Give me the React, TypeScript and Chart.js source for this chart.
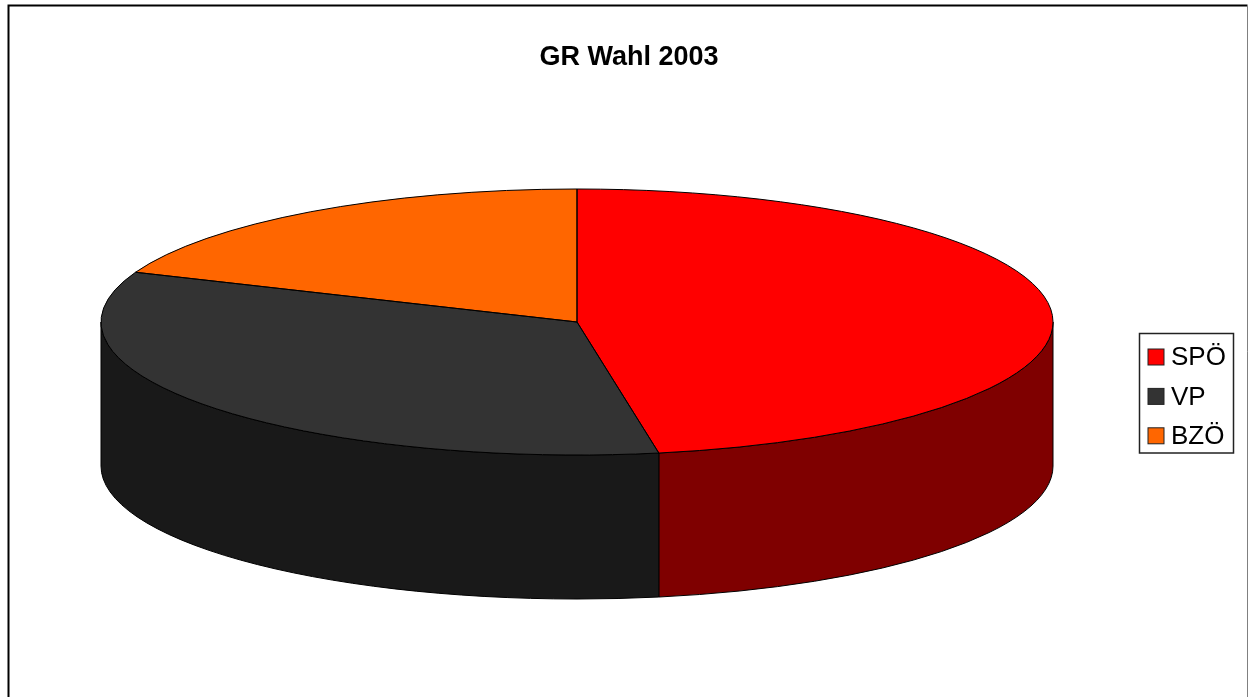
import React, { useEffect, useRef } from "react";
import { Chart, registerables } from "chart.js";

Chart.register(...registerables);

const categories = ["SPÖ", "VP", "BZÖ"];
const shares = [47.25, 33.85, 18.9];
const topColors = ["#ff0000", "#333333", "#ff6600"];
const wallColors = ["#7f0000", "#191919", "#7f3300"];
const chartTitle = "GR Wahl 2003";

const PIE = { cx: 577, cy: 322, rx: 476, ry: 133, depth: 144 };
const LEGEND_FRAME = { left: 1139.5, top: 333.5, right: 1233.5, bottom: 453 };
const LEGEND_TEXT = { size: 26, padding: 13.4, left: 1134.6, top: 331.6 };
const SWATCH = { x: 1148, size: 16, lift: 1 };
const FRAME = { left: 8.5, top: 5.5, right: 1247.5, bottom: 697 };

const pie3d = {
  id: "pie3d",
  afterLayout(chart: any) {
    const l = chart.legend;
    l.left = LEGEND_TEXT.left;
    l.top = LEGEND_TEXT.top;
    l.right = LEGEND_TEXT.left + 200;
    l.bottom = LEGEND_TEXT.top + 300;
  },
  beforeDatasetsDraw(chart: any) {
    const ctx = chart.ctx;
    const arcs = chart.getDatasetMeta(0).data;
    const { cx, cy, rx, ry, depth } = PIE;
    arcs.forEach((arc: any, i: number) => {
      const a = Math.max(arc.startAngle, 0);
      const b = Math.min(arc.endAngle, Math.PI);
      if (b <= a) return;
      ctx.save();
      ctx.beginPath();
      ctx.ellipse(cx, cy, rx, ry, 0, a, b);
      ctx.ellipse(cx, cy + depth, rx, ry, 0, b, a, true);
      ctx.closePath();
      ctx.fillStyle = wallColors[i];
      ctx.fill();
      ctx.strokeStyle = "#000000";
      ctx.lineWidth = 1;
      ctx.stroke();
      ctx.restore();
    });
    const first = arcs[0];
    ctx.save();
    ctx.translate(cx, cy);
    ctx.scale(rx / first.outerRadius, ry / first.outerRadius);
    ctx.translate(-first.x, -first.y);
  },
  afterDatasetsDraw(chart: any) {
    const ctx = chart.ctx;
    ctx.restore();
    const { cx, cy, rx, ry } = PIE;
    chart.getDatasetMeta(0).data.forEach((arc: any) => {
      ctx.save();
      ctx.beginPath();
      ctx.moveTo(cx, cy);
      ctx.ellipse(cx, cy, rx, ry, 0, arc.startAngle, arc.endAngle);
      ctx.closePath();
      ctx.strokeStyle = "#000000";
      ctx.lineWidth = 1;
      ctx.stroke();
      ctx.restore();
    });
  },
  afterDraw(chart: any) {
    const ctx = chart.ctx;
    ctx.save();
    ctx.strokeStyle = "#000000";
    ctx.lineWidth = 2;
    ctx.beginPath();
    ctx.moveTo(FRAME.left, FRAME.bottom);
    ctx.lineTo(FRAME.left, FRAME.top);
    ctx.lineTo(FRAME.right, FRAME.top);
    ctx.stroke();
    ctx.strokeStyle = "#808080";
    ctx.lineWidth = 1;
    ctx.beginPath();
    ctx.moveTo(FRAME.right, FRAME.top);
    ctx.lineTo(FRAME.right, FRAME.bottom);
    ctx.stroke();

    ctx.strokeStyle = "#222222";
    ctx.lineWidth = 1.5;
    ctx.strokeRect(
      LEGEND_FRAME.left,
      LEGEND_FRAME.top,
      LEGEND_FRAME.right - LEGEND_FRAME.left,
      LEGEND_FRAME.bottom - LEGEND_FRAME.top
    );
    const itemStep = LEGEND_TEXT.size + LEGEND_TEXT.padding;
    const firstTop = LEGEND_TEXT.top + LEGEND_TEXT.padding;
    categories.forEach((_, i) => {
      const y = firstTop + i * itemStep + (LEGEND_TEXT.size - SWATCH.size) / 2 - SWATCH.lift;
      ctx.fillStyle = topColors[i];
      ctx.fillRect(SWATCH.x, y, SWATCH.size, SWATCH.size);
      ctx.strokeStyle = "#222222";
      ctx.lineWidth = 1;
      ctx.strokeRect(SWATCH.x, y, SWATCH.size, SWATCH.size);
    });
    ctx.restore();
  },
};

export default function App() {
  const ref = useRef<HTMLCanvasElement | null>(null);
  useEffect(() => {
    document.body.style.margin = "0";
    const chart = new Chart(ref.current as HTMLCanvasElement, {
      type: "pie",
      data: {
        labels: categories,
        datasets: [{ data: shares, backgroundColor: topColors, borderWidth: 0 }],
      },
      options: {
        responsive: false,
        animation: false,
        layout: { padding: { left: 10 } },
        plugins: {
          title: {
            display: true,
            text: chartTitle,
            color: "#000000",
            font: { family: "'Liberation Sans'", size: 27, weight: "bold" },
            padding: { top: 41, bottom: 10 },
          },
          legend: {
            display: true,
            position: "right",
            align: "start",
            labels: {
              boxWidth: 10,
              boxHeight: 0,
              padding: LEGEND_TEXT.padding,
              color: "#000000",
              font: { family: "'Liberation Sans'", size: LEGEND_TEXT.size },
              generateLabels: () =>
                categories.map((text, index) => ({
                  text,
                  index,
                  fillStyle: "rgba(0,0,0,0)",
                  strokeStyle: "rgba(0,0,0,0)",
                  lineWidth: 0,
                  hidden: false,
                })),
            },
          },
          tooltip: { enabled: false },
        },
      },
      plugins: [pie3d],
    } as any);
    return () => chart.destroy();
  }, []);
  return <canvas ref={ref} width={1248} height={697} style={{ display: "block" }} />;
}
